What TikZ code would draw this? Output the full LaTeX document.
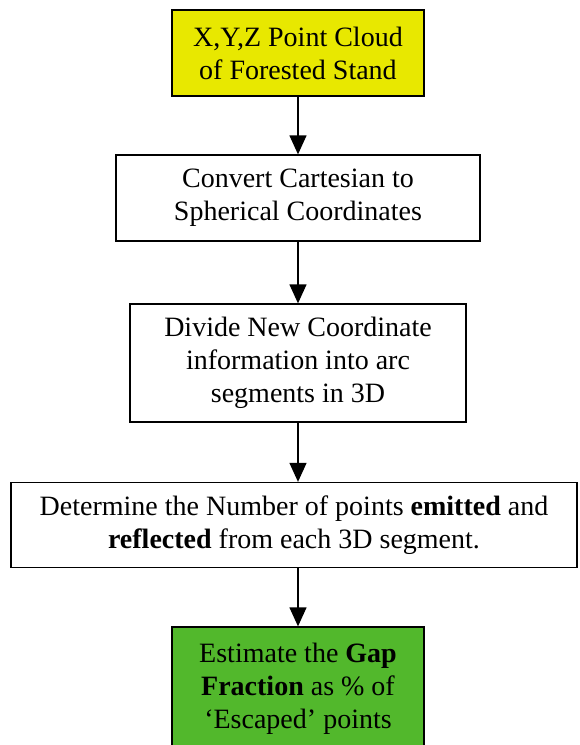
\documentclass[tikz,border=0pt]{standalone}
\usepackage{fontspec}
\setmainfont{Liberation Serif}
\usetikzlibrary{arrows.meta}
\definecolor{cloudyellow}{RGB}{232,232,0}
\definecolor{gapgreen}{RGB}{82,184,44}
\begin{document}
\begin{tikzpicture}[x=1pt, y=-1pt,
			stepbox/.style={draw, line width=1.3pt, rectangle, align=center,
				inner sep=0pt, font=\fontsize{28}{33}\selectfont},
			flow/.style={-{Triangle[width=17pt, length=19pt]}, line width=1.3pt}]
			\useasboundingbox (0,0) rectangle (579,745);
			\node[stepbox, fill=cloudyellow, minimum width=252pt, minimum height=86pt] (cloud) at (298,53) {X,Y,Z Point Cloud\\of Forested Stand};
			\node[stepbox, minimum width=364pt, minimum height=86pt] (convert) at (298,198) {Convert Cartesian to\\Spherical Coordinates};
			\node[stepbox, minimum width=336pt, minimum height=118pt] (divide) at (298,363) {Divide New Coordinate\\information into arc\\segments in 3D};
			\node[stepbox, minimum width=566pt, minimum height=85pt] (count) at (294,525) {Determine the Number of points \textbf{emitted} and\\\textbf{reflected} from each 3D segment.};
			\node[stepbox, fill=gapgreen, minimum width=252pt, minimum height=124pt] (gap) at (298,689) {Estimate the \textbf{Gap}\\\textbf{Fraction} as \% of\\‘Escaped’ points};
			\draw (cloud.south) edge[flow] (convert.north);
			\draw (convert.south) edge[flow] (divide.north);
			\draw (divide.south) edge[flow] (count.north-|divide.south);
			\draw (count.south-|gap.north) edge[flow] (gap.north);
\end{tikzpicture}
\end{document}
